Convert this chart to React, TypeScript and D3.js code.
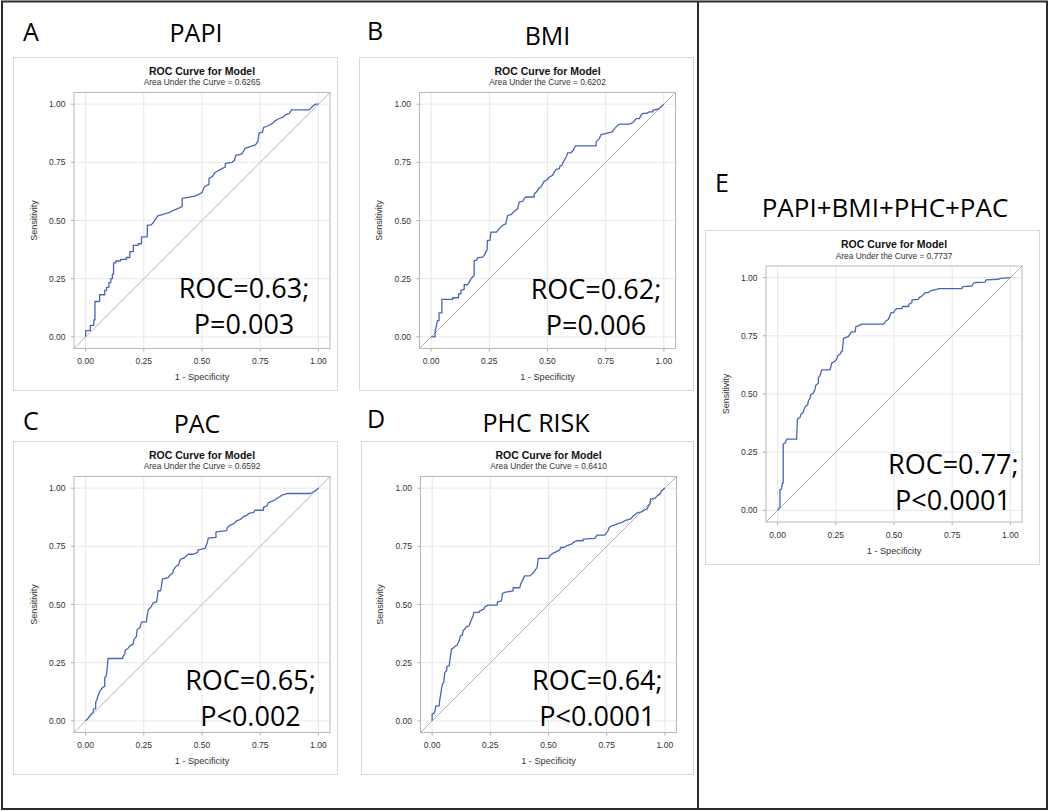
import React from "react";
import * as d3 from "d3";

type Pt = [number, number];

const letters = ["A", "B", "C", "D", "E"];
const headings = ["PAPI", "BMI", "PAC", "PHC RISK", "PAPI+BMI+PHC+PAC"];
const aucValues = ["0.6265", "0.6202", "0.6592", "0.6410", "0.7737"];
const rocLabels = ["ROC=0.63;", "ROC=0.62;", "ROC=0.65;", "ROC=0.64;", "ROC=0.77;"];
const pLabels = ["P=0.003", "P=0.006", "P<0.002", "P<0.0001", "P<0.0001"];
const tickValues = [0, 0.25, 0.5, 0.75, 1];

const curvePAPI: Pt[] = [
  [0, 0], [0, 0.027], [0.02, 0.027], [0.02, 0.049], [0.035, 0.049], [0.035, 0.073], [0.04, 0.073],
  [0.04, 0.152], [0.06, 0.152], [0.06, 0.181], [0.082, 0.181], [0.082, 0.2], [0.09, 0.2], [0.09, 0.213],
  [0.1, 0.213], [0.1, 0.233], [0.108, 0.233], [0.108, 0.25], [0.115, 0.25], [0.115, 0.27], [0.12, 0.27],
  [0.12, 0.318], [0.13, 0.318], [0.13, 0.326], [0.15, 0.326], [0.15, 0.333], [0.175, 0.333], [0.175, 0.341],
  [0.19, 0.341], [0.19, 0.366], [0.205, 0.366], [0.205, 0.393], [0.225, 0.393], [0.225, 0.4], [0.24, 0.4],
  [0.24, 0.43], [0.265, 0.43], [0.265, 0.48], [0.28, 0.48], [0.29, 0.49], [0.3, 0.505], [0.31, 0.52],
  [0.33, 0.525], [0.36, 0.535], [0.38, 0.545], [0.405, 0.555], [0.415, 0.56], [0.415, 0.595], [0.445, 0.6],
  [0.47, 0.605], [0.49, 0.615], [0.5, 0.62], [0.505, 0.632], [0.51, 0.645], [0.53, 0.655], [0.53, 0.68],
  [0.545, 0.69], [0.555, 0.705], [0.57, 0.715], [0.58, 0.72], [0.6, 0.73], [0.6, 0.745], [0.63, 0.75],
  [0.64, 0.76], [0.645, 0.78], [0.67, 0.785], [0.68, 0.8], [0.685, 0.81], [0.7, 0.815], [0.73, 0.825],
  [0.74, 0.84], [0.745, 0.875], [0.76, 0.88], [0.765, 0.9], [0.78, 0.905], [0.8, 0.915], [0.81, 0.925],
  [0.825, 0.935], [0.85, 0.945], [0.86, 0.955], [0.875, 0.96], [0.885, 0.975], [0.96, 0.975], [0.97, 0.985],
  [0.98, 0.995], [0.99, 1], [1, 1],
];

const curveBMI: Pt[] = [
  [0, 0], [0.017, 0], [0.017, 0.023], [0.023, 0.049], [0.027, 0.07], [0.034, 0.07], [0.034, 0.103],
  [0.046, 0.103], [0.046, 0.161], [0.092, 0.161], [0.092, 0.168], [0.118, 0.168], [0.118, 0.185],
  [0.128, 0.185], [0.128, 0.2], [0.142, 0.204], [0.142, 0.224], [0.156, 0.224], [0.164, 0.235],
  [0.171, 0.25], [0.185, 0.264], [0.185, 0.329], [0.195, 0.329], [0.2, 0.34], [0.221, 0.343],
  [0.228, 0.35], [0.235, 0.364], [0.24, 0.372], [0.242, 0.415], [0.253, 0.415], [0.257, 0.45],
  [0.281, 0.45], [0.293, 0.465], [0.307, 0.479], [0.321, 0.486], [0.329, 0.522], [0.343, 0.525],
  [0.357, 0.539], [0.372, 0.551], [0.379, 0.58], [0.393, 0.582], [0.405, 0.601], [0.443, 0.601],
  [0.443, 0.615], [0.453, 0.623], [0.462, 0.637], [0.472, 0.644], [0.486, 0.669], [0.496, 0.673],
  [0.508, 0.687], [0.522, 0.694], [0.529, 0.709], [0.537, 0.72], [0.551, 0.723], [0.554, 0.735],
  [0.562, 0.737], [0.568, 0.752], [0.58, 0.773], [0.587, 0.791], [0.601, 0.791], [0.611, 0.802],
  [0.62, 0.821], [0.709, 0.821], [0.709, 0.838], [0.723, 0.852], [0.73, 0.869], [0.752, 0.874],
  [0.766, 0.878], [0.778, 0.881], [0.788, 0.895], [0.802, 0.91], [0.809, 0.914], [0.852, 0.914],
  [0.867, 0.921], [0.881, 0.938], [0.895, 0.938], [0.902, 0.953], [0.91, 0.96], [0.924, 0.96],
  [0.938, 0.967], [0.953, 0.967], [0.953, 0.974], [0.974, 0.978], [0.989, 0.989], [1, 1],
];

const curvePAC: Pt[] = [
  [0, 0], [0.01, 0.01], [0.017, 0.021], [0.024, 0.029], [0.032, 0.036], [0.034, 0.05], [0.043, 0.053],
  [0.043, 0.079], [0.049, 0.093], [0.053, 0.107], [0.06, 0.125], [0.068, 0.136], [0.072, 0.143],
  [0.082, 0.148], [0.082, 0.186], [0.089, 0.193], [0.093, 0.229], [0.096, 0.268], [0.158, 0.268],
  [0.161, 0.277], [0.168, 0.287], [0.171, 0.305], [0.182, 0.311], [0.19, 0.322], [0.204, 0.33],
  [0.208, 0.351], [0.218, 0.362], [0.221, 0.391], [0.233, 0.401], [0.24, 0.423], [0.247, 0.425],
  [0.261, 0.425], [0.264, 0.451], [0.269, 0.477], [0.279, 0.487], [0.29, 0.506], [0.297, 0.509],
  [0.305, 0.511], [0.312, 0.559], [0.322, 0.559], [0.326, 0.58], [0.33, 0.609], [0.341, 0.612],
  [0.355, 0.616], [0.362, 0.626], [0.374, 0.635], [0.376, 0.645], [0.384, 0.659], [0.391, 0.666],
  [0.398, 0.669], [0.405, 0.688], [0.408, 0.695], [0.42, 0.698], [0.441, 0.716], [0.463, 0.716],
  [0.48, 0.723], [0.484, 0.735], [0.499, 0.738], [0.513, 0.741], [0.52, 0.759], [0.523, 0.766],
  [0.527, 0.785], [0.56, 0.788], [0.56, 0.812], [0.606, 0.817], [0.609, 0.831], [0.621, 0.841],
  [0.632, 0.845], [0.642, 0.852], [0.649, 0.86], [0.661, 0.864], [0.671, 0.87], [0.678, 0.878],
  [0.693, 0.884], [0.704, 0.893], [0.721, 0.895], [0.728, 0.905], [0.764, 0.905], [0.764, 0.917],
  [0.779, 0.924], [0.786, 0.938], [0.807, 0.946], [0.815, 0.95], [0.822, 0.956], [0.836, 0.964],
  [0.843, 0.97], [0.858, 0.974], [0.865, 0.977], [0.966, 0.977], [0.973, 0.981], [0.987, 0.989], [1, 1],
];

const curvePHC: Pt[] = [
  [0, 0], [0, 0.029], [0.007, 0.033], [0.011, 0.036], [0.016, 0.064], [0.03, 0.064], [0.033, 0.093],
  [0.037, 0.115], [0.04, 0.136], [0.044, 0.158], [0.05, 0.165], [0.054, 0.208], [0.062, 0.215],
  [0.064, 0.234], [0.073, 0.236], [0.079, 0.279], [0.083, 0.308], [0.09, 0.312], [0.097, 0.319],
  [0.107, 0.325], [0.116, 0.344], [0.122, 0.365], [0.13, 0.368], [0.133, 0.387], [0.14, 0.394],
  [0.148, 0.405], [0.159, 0.408], [0.165, 0.426], [0.176, 0.451], [0.179, 0.466], [0.202, 0.466],
  [0.205, 0.473], [0.222, 0.48], [0.226, 0.49], [0.234, 0.494], [0.241, 0.497], [0.279, 0.497],
  [0.281, 0.511], [0.298, 0.516], [0.302, 0.547], [0.312, 0.552], [0.348, 0.559], [0.348, 0.572],
  [0.377, 0.572], [0.38, 0.587], [0.384, 0.595], [0.391, 0.609], [0.398, 0.623], [0.42, 0.623],
  [0.434, 0.635], [0.441, 0.645], [0.451, 0.659], [0.456, 0.698], [0.499, 0.698], [0.506, 0.709],
  [0.52, 0.721], [0.532, 0.726], [0.549, 0.735], [0.552, 0.745], [0.566, 0.745], [0.577, 0.752],
  [0.599, 0.759], [0.606, 0.766], [0.62, 0.774], [0.649, 0.774], [0.649, 0.781], [0.699, 0.784],
  [0.709, 0.798], [0.742, 0.798], [0.756, 0.817], [0.761, 0.831], [0.771, 0.838], [0.785, 0.842],
  [0.804, 0.85], [0.814, 0.852], [0.828, 0.86], [0.85, 0.867], [0.857, 0.871], [0.864, 0.881],
  [0.885, 0.895], [0.9, 0.898], [0.91, 0.905], [0.924, 0.91], [0.928, 0.921], [0.936, 0.931],
  [0.938, 0.953], [0.957, 0.956], [0.967, 0.967], [0.979, 0.974], [0.986, 0.989], [1, 1],
];

const curveCombined: Pt[] = [
  [0, 0], [0.006, 0.009], [0.01, 0.013], [0.01, 0.089], [0.017, 0.092], [0.02, 0.117], [0.024, 0.117],
  [0.024, 0.285], [0.032, 0.289], [0.039, 0.306], [0.082, 0.306], [0.082, 0.318], [0.085, 0.392],
  [0.096, 0.399], [0.1, 0.413], [0.11, 0.421], [0.115, 0.438], [0.121, 0.449], [0.129, 0.452],
  [0.132, 0.471], [0.139, 0.481], [0.143, 0.499], [0.154, 0.504], [0.161, 0.521], [0.164, 0.538],
  [0.175, 0.546], [0.175, 0.571], [0.182, 0.578], [0.189, 0.604], [0.225, 0.604], [0.23, 0.621],
  [0.232, 0.632], [0.247, 0.642], [0.254, 0.65], [0.258, 0.664], [0.268, 0.671], [0.273, 0.681],
  [0.278, 0.685], [0.283, 0.738], [0.29, 0.742], [0.304, 0.747], [0.311, 0.757], [0.316, 0.767],
  [0.333, 0.767], [0.336, 0.79], [0.347, 0.793], [0.362, 0.8], [0.455, 0.8], [0.462, 0.81],
  [0.476, 0.821], [0.488, 0.85], [0.498, 0.85], [0.505, 0.861], [0.512, 0.867], [0.534, 0.867],
  [0.537, 0.876], [0.562, 0.876], [0.565, 0.886], [0.577, 0.893], [0.577, 0.904], [0.605, 0.907],
  [0.608, 0.914], [0.62, 0.921], [0.627, 0.928], [0.634, 0.936], [0.648, 0.936], [0.656, 0.943],
  [0.684, 0.95], [0.692, 0.953], [0.792, 0.953], [0.795, 0.961], [0.835, 0.964], [0.842, 0.976],
  [0.849, 0.979], [0.892, 0.981], [0.895, 0.99], [0.95, 0.993], [0.957, 0.997], [1, 1],
];

const curves: Pt[][] = [curvePAPI, curveBMI, curvePAC, curvePHC, curveCombined];

// layout: positions per panel (page pixels)
const layout = [
  { box: [13, 57, 324, 333], plot: [74, 92.5], letter: [23, 41], heading: [196, 42], roc: [244, 298], p: [244, 334] },
  { box: [359, 57, 334, 333], plot: [419.5, 92.5], letter: [367, 40], heading: [547.5, 45], roc: [596, 298.5], p: [596, 335] },
  { box: [13, 441, 324, 333], plot: [74, 476.5], letter: [23, 430], heading: [197, 433], roc: [250.5, 690], p: [250.5, 726] },
  { box: [361, 441, 332, 333], plot: [420.5, 476.5], letter: [367, 428], heading: [536, 432], roc: [597.3, 689.5], p: [597.3, 726] },
  { box: [705, 230, 334, 334], plot: [766, 266], letter: [715, 192], heading: [885, 217], roc: [953.3, 473.5], p: [953, 509.5] },
];

const PLOT = 256;
const BIG_FONT = "'Open Sans', 'Noto Sans', sans-serif";
const SAS_FONT = "'Liberation Sans', Arial, sans-serif";
const CURVE = "#4766b8";

function Panel({ i }: { i: number }) {
  const L = layout[i];
  const [px, py] = L.plot;
  const x = d3.scaleLinear().domain([-0.05, 1.05]).range([px, px + PLOT]);
  const y = d3.scaleLinear().domain([-0.05, 1.05]).range([py + PLOT, py]);
  const line = d3.line<Pt>().x((d) => x(d[0])).y((d) => y(d[1]));
  const cx = px + PLOT / 2;
  const fmt = d3.format(".2f");
  return (
    <g>
      <rect x={L.box[0] + 0.5} y={L.box[1] + 0.5} width={L.box[2]} height={L.box[3]} fill="#fff" stroke="#d9d9d9" strokeWidth={1} />
      <text x={L.letter[0]} y={L.letter[1]} fontFamily={BIG_FONT} fontSize={25} fill="#000">{letters[i]}</text>
      <text x={L.heading[0]} y={L.heading[1]} fontFamily={BIG_FONT} fontSize={i === 4 ? 26 : 25} textAnchor="middle" fill="#000">{headings[i]}</text>
      <text x={cx} y={py - 18} fontFamily={SAS_FONT} fontSize={10.5} fontWeight="bold" textAnchor="middle" fill="#111">ROC Curve for Model</text>
      <text x={cx} y={py - 7.5} fontFamily={SAS_FONT} fontSize={8.4} textAnchor="middle" fill="#333">{`Area Under the Curve = ${aucValues[i]}`}</text>
      {tickValues.map((t) => (
        <g key={"g" + t}>
          <line x1={x(t)} x2={x(t)} y1={py} y2={py + PLOT} stroke="#e8e8e8" strokeWidth={1} />
          <line x1={px} x2={px + PLOT} y1={y(t)} y2={y(t)} stroke="#e8e8e8" strokeWidth={1} />
          <line x1={x(t)} x2={x(t)} y1={py + PLOT} y2={py + PLOT + 3} stroke="#999" strokeWidth={0.8} />
          <line x1={px - 3} x2={px} y1={y(t)} y2={y(t)} stroke="#999" strokeWidth={0.8} />
          <text x={x(t)} y={py + PLOT + 15.5} fontFamily={SAS_FONT} fontSize={8.5} textAnchor="middle" fill="#333">{fmt(t)}</text>
          <text x={px - 8.5} y={y(t) + 3} fontFamily={SAS_FONT} fontSize={8.5} textAnchor="end" fill="#333">{fmt(t)}</text>
        </g>
      ))}
      <line x1={x(-0.05)} y1={y(-0.05)} x2={x(1.05)} y2={y(1.05)} stroke="#b5b5b5" strokeWidth={1} />
      <path d={line(curves[i]) || ""} fill="none" stroke={CURVE} strokeWidth={1.3} strokeLinejoin="round" />
      <rect x={px} y={py} width={PLOT} height={PLOT} fill="none" stroke="#b8b8b8" strokeWidth={1} />
      <text x={cx} y={py + PLOT + 31.5} fontFamily={SAS_FONT} fontSize={9.2} textAnchor="middle" fill="#333">1 - Specificity</text>
      <text transform={`translate(${px - 37.5},${py + PLOT / 2}) rotate(-90)`} fontFamily={SAS_FONT} fontSize={9} textAnchor="middle" fill="#333">Sensitivity</text>
      <text x={L.roc[0]} y={L.roc[1]} fontFamily={BIG_FONT} fontSize={27} textAnchor="middle" fill="#000">{rocLabels[i]}</text>
      <text x={L.p[0]} y={L.p[1]} fontFamily={BIG_FONT} fontSize={27} textAnchor="middle" fill="#000">{pLabels[i]}</text>
    </g>
  );
}

export default function App() {
  return (
    <svg width={1050} height={811} style={{ position: "absolute", left: 0, top: 0, background: "#fff" }}>
      <rect x={0} y={0} width={1050} height={811} fill="#fff" />
      {letters.map((_, i) => (
        <Panel key={i} i={i} />
      ))}
      <rect x={2} y={1.5} width={1045} height={807.5} fill="none" stroke="#2b2b2b" strokeWidth={2} />
      <line x1={698} x2={698} y1={1.5} y2={809} stroke="#2b2b2b" strokeWidth={2} />
    </svg>
  );
}
